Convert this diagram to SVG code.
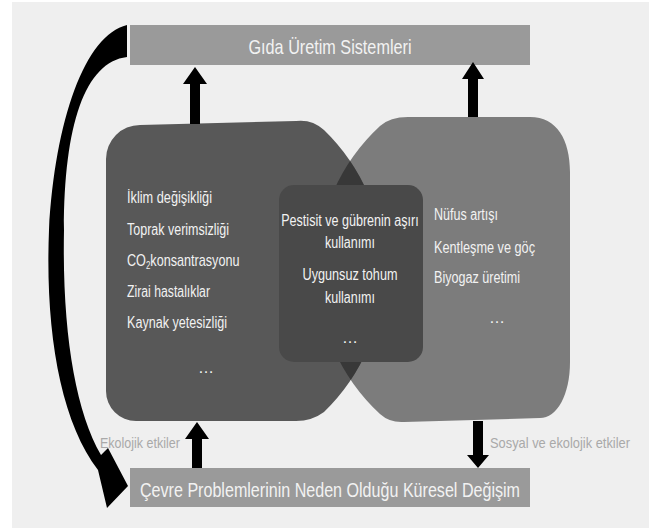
<svg xmlns="http://www.w3.org/2000/svg" width="657" height="528" viewBox="0 0 657 528">
  <style>
    .t { font-family: "Liberation Sans Narrow", "Liberation Sans", Arial, sans-serif; fill: #f2f2f2; }
    .s { font-size: 16px; }
    .bar { fill: #9a9a9a; }
    .lbl { font-family: "Liberation Sans Narrow", "Liberation Sans", Arial, sans-serif; font-size: 15px; fill: #a9a9a9; }
    .arr { fill: #000; }
  </style>
  <defs>
    <path id="leftShape" d="M 140,125 L 296,121 Q 312,119 324,130 A 196 196 0 0 1 324,412 Q 312,421 296,421 L 136,421 A 30 30 0 0 1 106,391 L 106,159 A 34 34 0 0 1 140,125 Z"/>
    <path id="rightShape" d="M 408,117 L 530,117 C 557,117 570,140 570,172 L 570,362 C 570,395 557,418 540,418 L 404,422 Q 390,423 380,414 A 196 196 0 0 1 380,126 Q 390,117 408,117 Z"/>
    <clipPath id="rightClip"><use href="#rightShape"/></clipPath>
  </defs>
  <rect x="0" y="0" width="657" height="528" fill="#ffffff"/>
  <rect x="12" y="2" width="637" height="526" fill="#efefef"/>

  <g id="top-bar">
    <rect class="bar" x="130" y="25" width="400" height="40"/>
    <text class="t" x="330" y="54" font-size="21" text-anchor="middle" textLength="163" lengthAdjust="spacingAndGlyphs">Gıda Üretim Sistemleri</text>
  </g>

  <g id="bottom-bar">
    <rect class="bar" x="130" y="468" width="400" height="39"/>
    <text class="t" x="330" y="497" font-size="20" text-anchor="middle" textLength="380" lengthAdjust="spacingAndGlyphs">Çevre  Problemlerinin Neden Olduğu Küresel Değişim</text>
  </g>

  <g id="right-node">
    <use href="#rightShape" fill="#7c7c7c"/>
    <text class="t s" x="434" y="220" textLength="64" lengthAdjust="spacingAndGlyphs">Nüfus artışı</text>
    <text class="t s" x="434" y="253" textLength="101" lengthAdjust="spacingAndGlyphs">Kentleşme ve göç</text>
    <text class="t s" x="434" y="283" textLength="86" lengthAdjust="spacingAndGlyphs">Biyogaz üretimi</text>
    <text class="t s" x="497" y="323" text-anchor="middle">…</text>
  </g>

  <g id="left-node">
    <use href="#leftShape" fill="#585858"/>
    <use href="#leftShape" fill="#383838" clip-path="url(#rightClip)"/>
    <text class="t s" x="127" y="203" textLength="85" lengthAdjust="spacingAndGlyphs">İklim değişikliği</text>
    <text class="t s" x="127" y="235" textLength="102" lengthAdjust="spacingAndGlyphs">Toprak verimsizliği</text>
    <text class="t s" transform="translate(127 266) scale(0.79 1)" x="0" y="0">CO<tspan font-size="10" dy="3">2</tspan><tspan dy="-3">konsantrasyonu</tspan></text>
    <text class="t s" x="127" y="297" textLength="83" lengthAdjust="spacingAndGlyphs">Zirai hastalıklar</text>
    <text class="t s" x="127" y="328" textLength="100" lengthAdjust="spacingAndGlyphs">Kaynak yetesizliği</text>
    <text class="t s" x="206" y="373" text-anchor="middle">…</text>
  </g>

  <g id="middle-node">
    <rect x="279" y="185" width="144" height="177" rx="15" ry="15" fill="#494949"/>
    <text class="t s" transform="translate(350 226) scale(0.786 1)" x="0" y="0" text-anchor="middle">Pestisit ve gübrenin aşırı</text>
    <text class="t s" x="350" y="248" text-anchor="middle" textLength="50" lengthAdjust="spacingAndGlyphs">kullanımı</text>
    <text class="t s" x="350" y="280" text-anchor="middle" textLength="95" lengthAdjust="spacingAndGlyphs">Uygunsuz tohum</text>
    <text class="t s" x="350" y="303" text-anchor="middle" textLength="50" lengthAdjust="spacingAndGlyphs">kullanımı</text>
    <text class="t s" x="350" y="343" text-anchor="middle">…</text>
  </g>

  <g id="connectors">
    <path class="arr" d="M 127,25 C 85,35 55,120 49,230 C 45,330 60,420 98,470 L 107,508 L 128,486 L 108,448 L 101,455 C 75,410 62,330 64,230 C 64,125 85,62 127,57 Z"/>
    <path class="arr" d="M190,124 V84 H183 L195,67 L207,84 H200 V124 Z"/>
    <path class="arr" d="M468,117 V79 H462 L473,62 L484,79 H478 V117 Z"/>
    <path class="arr" d="M192,468 V439 H185 L197,422 L209,439 H202 V468 Z"/>
    <path class="arr" d="M473,421 V455 H467 L478,468 L489,455 H483 V421 Z"/>
    <text class="lbl" x="100" y="448" textLength="80" lengthAdjust="spacingAndGlyphs">Ekolojik etkiler</text>
    <text class="lbl" x="490" y="448" textLength="140" lengthAdjust="spacingAndGlyphs">Sosyal  ve ekolojik etkiler</text>
  </g>
</svg>
